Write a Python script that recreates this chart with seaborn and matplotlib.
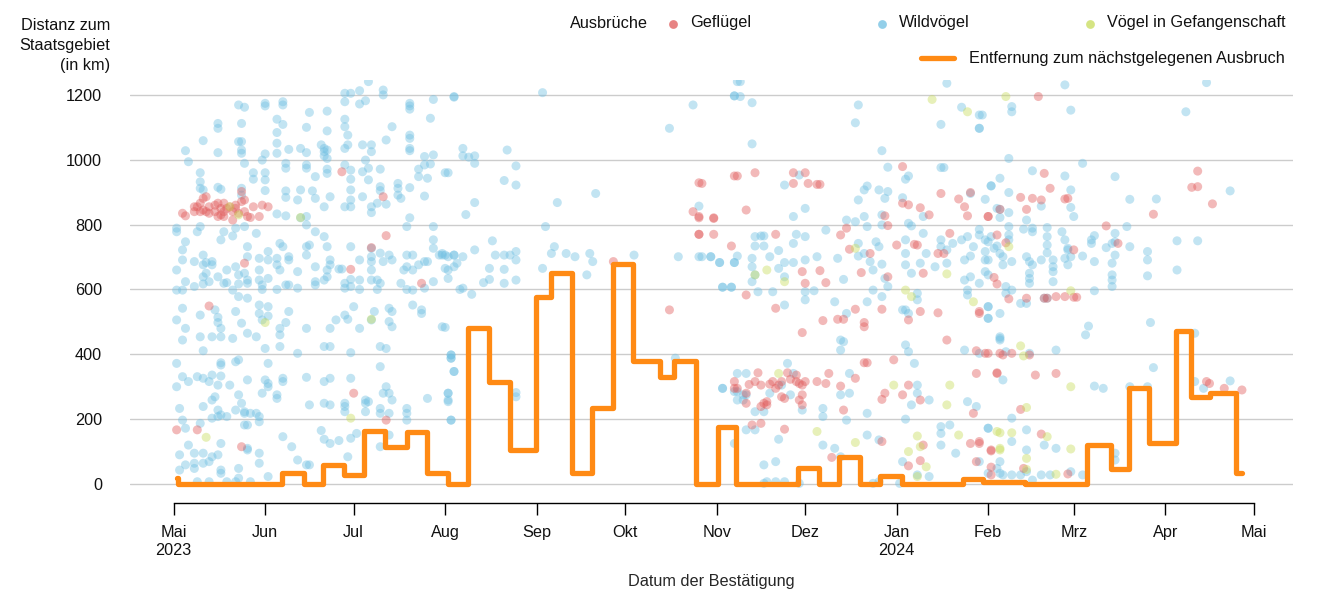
import pandas as pd
import matplotlib
matplotlib.use('Agg')
import matplotlib.pyplot as plt
import matplotlib.dates as mdates
import seaborn as sns

# Ausbrüche als (Tage seit 1. Mai 2023, Distanz zum Staatsgebiet in km)
START = pd.Timestamp('2023-05-01')
END = pd.Timestamp('2024-05-01')

wild_may_jul = [
    (22, 1169), (24, 1162), (31, 1174), (31, 1166), (37, 1179), (37, 1169), (46, 1146), (52, 1150), (58, 1205),
    (60, 1205), (63, 1213), (66, 1241), (71, 1215), (71, 1200), (80, 1174), (80, 1166), (88, 1186), (95, 1193),
    (58, 1179), (63, 1172), (65, 1182), (35, 1125), (37, 1109), (15, 1112), (15, 1097), (23, 1112), (45, 1100),
    (52, 1089), (58, 1125), (58, 1102), (59, 1076), (74, 1102), (87, 1128), (80, 1156), (80, 1035), (80, 1028),
    (10, 1059), (4, 1028), (15, 1022), (22, 1056), (23, 1056), (23, 1030), (23, 1020), (35, 1084), (35, 1051),
    (35, 1020), (39, 1032), (43, 1035), (45, 1022), (50, 1046), (51, 1035), (51, 1025), (52, 1030), (51, 1012),
    (52, 1004), (58, 1035), (59, 1046), (64, 1046), (67, 1046), (67, 1025), (72, 1061), (88, 1015), (85, 1010),
    (87, 987), (80, 1076), (80, 1066), (31, 1018), (30, 999), (24, 989),
    (5, 994), (9, 960), (9, 932), (9, 912), (15, 915), (16, 909), (27, 960), (31, 960), (31, 938), (27, 940),
    (23, 912), (23, 891), (31, 905), (38, 989), (38, 974), (38, 904), (38, 884), (45, 984), (45, 974), (48, 948),
    (52, 971), (52, 958), (58, 984), (60, 968), (60, 940), (60, 907), (60, 876), (60, 855), (64, 963), (65, 999),
    (66, 974), (66, 938), (70, 971), (70, 917), (70, 905), (76, 927), (76, 912), (76, 891), (77, 881), (80, 914),
    (83, 971), (83, 948), (85, 984), (86, 943), (92, 960), (85, 888), (64, 886), (58, 855), (53, 886), (48, 881),
    (51, 855), (43, 907), (42, 876), (47, 904), (67, 855), (67, 837), (45, 799), (45, 825), (43, 821), (80, 821),
    (69, 866), (72, 863), (79, 794), (88, 794), (35, 833), (38, 827), (9, 794), (1, 789), (1, 778), (8, 778),
    (10, 907),
    (4, 747), (3, 722), (3, 691), (1, 660), (7, 686), (10, 706), (10, 676), (11, 683), (13, 686), (13, 676),
    (11, 650), (10, 639), (10, 617), (12, 624), (15, 639), (17, 619), (18, 660), (21, 670), (22, 645), (24, 650),
    (25, 732), (25, 701), (25, 629), (22, 617), (20, 598), (29, 696), (29, 660), (29, 629), (32, 717), (32, 691),
    (32, 634), (35, 696), (35, 676), (36, 742), (37, 732), (36, 660), (39, 701), (39, 691), (39, 614), (42, 655),
    (45, 732), (45, 706), (46, 737), (48, 778), (48, 670), (51, 763), (52, 732), (53, 691), (52, 660), (52, 639),
    (51, 629), (53, 676), (56, 663), (57, 663), (58, 619), (60, 631), (60, 609), (60, 732), (63, 691), (67, 727),
    (67, 701), (67, 686), (67, 660), (67, 629), (69, 629), (70, 712), (71, 686), (70, 619), (73, 706), (74, 691),
    (77, 619), (79, 706), (81, 706), (79, 670), (78, 660), (81, 660), (83, 676), (85, 686), (86, 686), (88, 753),
    (88, 727), (88, 624), (91, 706), (92, 706), (92, 665), (95, 706), (96, 681), (97, 600), (85, 604), (81, 598),
    (79, 600), (69, 600), (63, 629), (63, 600), (58, 604), (48, 614), (48, 624), (42, 604), (38, 614), (35, 600),
    (30, 600), (30, 614), (25, 619), (18, 621), (7, 609), (4, 624), (3, 598), (1, 598), (16, 753), (20, 765),
    (17, 778), (21, 789), (24, 794), (28, 773),
    (3, 542), (1, 506), (4, 480), (3, 444), (9, 521), (9, 454), (10, 411), (14, 537), (15, 514), (15, 498),
    (16, 480), (13, 454), (16, 454), (20, 449), (22, 578), (25, 573), (21, 532), (23, 496), (25, 465), (28, 454),
    (29, 552), (29, 526), (32, 547), (30, 506), (32, 518), (31, 418), (36, 480), (36, 460), (36, 424), (38, 498),
    (39, 532), (42, 403), (45, 480), (51, 424), (53, 480), (53, 424), (55, 506), (58, 521), (59, 508), (61, 547),
    (63, 480), (67, 506), (68, 532), (60, 405), (70, 424), (72, 418), (73, 542), (74, 532), (74, 485), (73, 501),
    (81, 552), (84, 537), (84, 526), (92, 483), (94, 398), (94, 388), (1, 372), (3, 331), (16, 374), (16, 367),
    (21, 377), (22, 383), (32, 372),
    (1, 300), (5, 316), (2, 233), (3, 197), (4, 172), (8, 331), (10, 326), (12, 316), (13, 336), (16, 333),
    (14, 269), (13, 259), (15, 305), (19, 305), (15, 228), (15, 208), (16, 213), (18, 208), (10, 239), (9, 187),
    (13, 203), (21, 228), (22, 275), (23, 249), (25, 321), (24, 223), (28, 218), (29, 208), (26, 218), (29, 192),
    (24, 218), (24, 182), (25, 182), (31, 321), (32, 310), (32, 300), (30, 280), (35, 275), (35, 264), (37, 326),
    (37, 316), (45, 329), (46, 244), (51, 316), (53, 326), (53, 244), (51, 249), (58, 239), (58, 223), (58, 249),
    (60, 326), (65, 259), (65, 249), (65, 223), (66, 254), (70, 362), (71, 280), (72, 300), (73, 280), (70, 233),
    (70, 218), (74, 259), (79, 233), (79, 218), (79, 197), (86, 264), (93, 280), (93, 259), (94, 197), (95, 347),
    (2, 90), (7, 95), (7, 64), (7, 48), (2, 43), (4, 59), (5, 120), (10, 95), (10, 64), (12, 69), (13, 84),
    (15, 90), (16, 43), (16, 33), (16, 125), (25, 105), (25, 110), (22, 48), (29, 64), (29, 95), (37, 146),
    (40, 115), (42, 74), (45, 59), (46, 59), (50, 165), (51, 138), (53, 125), (56, 134), (59, 84), (60, 141),
    (62, 156), (70, 115), (73, 218), (73, 151), (8, 7), (12, 7), (18, 7), (21, 7), (26, 7), (32, 23), (22, 18),
]

wild_aug_oct = [
    (95, 1195), (98, 1035), (98, 1012), (100, 1008), (102, 1012), (102, 989), (93, 960), (113, 1030), (116, 981),
    (112, 936), (116, 922), (102, 868), (99, 831), (125, 1207), (130, 868), (143, 896), (126, 794), (90, 706),
    (91, 711), (93, 701), (95, 706), (98, 701), (102, 722), (108, 750), (109, 706), (112, 706), (114, 706),
    (116, 717), (116, 691), (93, 660), (93, 634), (95, 670), (98, 604), (101, 585), (105, 621), (107, 631),
    (107, 665), (112, 662), (112, 619), (116, 629), (125, 665), (128, 711), (129, 732), (133, 711), (136, 701),
    (141, 711), (142, 686), (140, 645), (156, 706), (171, 701), (179, 701), (182, 701), (185, 683), (190, 683),
    (186, 607), (189, 607), (176, 1169), (168, 1097), (190, 1197), (191, 1241), (91, 485), (94, 398), (94, 388),
    (95, 347), (93, 280), (93, 254), (94, 197), (116, 282), (116, 269), (186, 295), (190, 285), (191, 259),
    (170, 388),
]

wild_nov_jan = [
    (192, 1241), (190, 1197), (192, 1195), (196, 1176), (196, 1049), (232, 1169), (231, 1114), (240, 1028),
    (262, 1236), (260, 1109), (267, 1162), (274, 1138), (273, 1097),
    (178, 857), (178, 701), (182, 701), (185, 683), (186, 607), (189, 607), (191, 703), (190, 683), (196, 696),
    (196, 670), (197, 763), (199, 765), (200, 765), (197, 734), (200, 734), (196, 624), (197, 645), (198, 593),
    (203, 593), (202, 701), (205, 720), (207, 683), (207, 639), (205, 665), (207, 552), (210, 742), (210, 683),
    (210, 825), (207, 922), (212, 953), (214, 850), (211, 770), (214, 763), (214, 691), (214, 593), (214, 568),
    (218, 701), (217, 596), (221, 783), (224, 562), (225, 696), (227, 631), (228, 526), (226, 444), (226, 413),
    (227, 439), (228, 814), (231, 809), (232, 876), (234, 907), (235, 919), (235, 794), (234, 825), (239, 907),
    (241, 881), (242, 902), (242, 977), (240, 830), (240, 799), (232, 742), (232, 703), (234, 711), (236, 686),
    (237, 660), (238, 747), (239, 732), (240, 678), (241, 634), (237, 598), (235, 562), (240, 578), (242, 609),
    (248, 753), (248, 711), (248, 676), (250, 650), (249, 526), (248, 537), (252, 588), (252, 568), (248, 429),
    (249, 408), (251, 372), (247, 537), (249, 804), (247, 883), (248, 940), (249, 950), (250, 796), (254, 825),
    (254, 773), (255, 711), (253, 681), (258, 670), (260, 976), (261, 976), (260, 753), (260, 732), (262, 722),
    (262, 681), (264, 742), (267, 753), (269, 763), (268, 691), (270, 703), (271, 732), (270, 639), (268, 629),
    (269, 598), (269, 583), (273, 619), (276, 645), (276, 691), (276, 747), (277, 763), (279, 734), (277, 919),
    (275, 878), (276, 547), (276, 511), (280, 444), (268, 413), (279, 850), (273, 785), (270, 896),
    (186, 295), (191, 341), (194, 341), (191, 285), (193, 259), (193, 275), (194, 275), (197, 223), (200, 223),
    (202, 280), (206, 305), (208, 372), (209, 275), (210, 341), (213, 228), (220, 233), (220, 208), (220, 120),
    (224, 110), (228, 197), (229, 280), (229, 341), (226, 275), (226, 84), (197, 167), (200, 59), (204, 69),
    (207, 7), (201, 7), (204, 7), (194, 167), (190, 125), (212, 2), (200, 2), (205, 138), (235, 218), (235, 151),
    (239, 136), (247, 69), (248, 200), (250, 244), (252, 280), (252, 305), (256, 259), (260, 156), (260, 177),
    (263, 182), (265, 95), (269, 254), (272, 239), (276, 172), (276, 33), (279, 48), (260, 120), (256, 23),
    (252, 28), (246, 2), (239, 7), (237, 2),
]

wild_feb_apr = [
    (302, 1231), (284, 1164), (284, 1148), (273, 1138), (273, 1097), (304, 1153), (343, 1148), (350, 1238),
    (283, 1004), (308, 989), (291, 966), (302, 950), (319, 948), (280, 943), (277, 920), (283, 899), (304, 907),
    (324, 878), (333, 879), (358, 904), (304, 853), (305, 825), (280, 847), (280, 822), (283, 837), (283, 794),
    (283, 768), (283, 753), (291, 789), (291, 778), (288, 786), (296, 791), (296, 763), (296, 737), (296, 713),
    (301, 778), (302, 753), (303, 727), (304, 701), (303, 676), (289, 814), (294, 857), (311, 753), (311, 742),
    (312, 766), (308, 703), (312, 686), (316, 729), (318, 742), (319, 773), (319, 747), (319, 706), (318, 681),
    (318, 645), (318, 629), (318, 609), (323, 794), (324, 732), (330, 717), (330, 691), (330, 642), (340, 750),
    (347, 750), (340, 660), (312, 596), (273, 768), (275, 753), (275, 717), (275, 691), (275, 655), (278, 727),
    (280, 711), (281, 701), (281, 676), (282, 609), (284, 686), (284, 598), (282, 588), (289, 701), (290, 686),
    (291, 676), (290, 650), (290, 634), (290, 619), (294, 691), (298, 691), (298, 670), (298, 655), (298, 624),
    (302, 696), (303, 722), (287, 557), (289, 557), (295, 573), (296, 573), (276, 547), (276, 511), (280, 526),
    (273, 403), (280, 454), (280, 449), (290, 403), (282, 408), (299, 413), (310, 487), (309, 460), (331, 498),
    (332, 359), (281, 321), (312, 302), (315, 295), (319, 95), (319, 74), (276, 172), (284, 203), (284, 131),
    (289, 167), (295, 120), (289, 105), (299, 110), (280, 69), (280, 33), (281, 28), (287, 28), (289, 38),
    (294, 28), (297, 28), (304, 38), (308, 28), (291, 12), (284, 28), (273, 69), (346, 465), (346, 316),
    (358, 318), (349, 295), (330, 300), (324, 300),
]

poultry_summer = [
    (3, 835), (4, 827), (7, 840), (8, 855), (9, 866), (10, 881), (11, 886), (9, 840), (10, 845), (11, 840),
    (12, 835), (14, 840), (14, 860), (15, 866), (16, 850), (16, 830), (17, 840), (17, 825), (18, 850), (19, 855),
    (20, 840), (20, 814), (21, 860), (21, 850), (22, 835), (23, 902), (23, 871), (24, 876), (24, 840), (25, 825),
    (26, 822), (27, 855), (29, 825), (30, 860), (32, 855), (17, 866), (15, 825), (12, 855), (7, 855), (24, 681),
    (12, 549), (57, 963), (71, 886), (72, 766), (67, 729), (60, 662), (84, 619), (1, 167), (8, 167), (23, 115),
    (61, 280), (72, 197), (149, 686), (168, 537), (179, 927), (176, 840), (178, 825), (183, 819), (178, 770),
    (183, 770), (189, 734), (190, 950), (191, 950), (190, 316), (190, 295),
]

poultry_winter = [
    (197, 960), (194, 845), (210, 960), (214, 960), (210, 927), (215, 927), (218, 924), (219, 924), (204, 770),
    (194, 583), (204, 542), (213, 467), (220, 504), (225, 508), (227, 508), (247, 979), (247, 866), (249, 861),
    (253, 852), (256, 830), (260, 896), (266, 879), (268, 855), (270, 899), (269, 827), (276, 825), (263, 773),
    (259, 711), (252, 737), (261, 711), (241, 827), (242, 797), (228, 789), (226, 768), (229, 724), (233, 652),
    (236, 711), (245, 737), (251, 739), (254, 650), (242, 639), (231, 539), (240, 539), (234, 498), (234, 485),
    (221, 621), (219, 658), (213, 655), (214, 619), (249, 506), (253, 532), (259, 528), (262, 444), (244, 383),
    (234, 374), (235, 374), (241, 280), (247, 275), (249, 305), (253, 259), (249, 56), (253, 72), (254, 120),
    (272, 411), (275, 403), (272, 69), (270, 125), (273, 131), (277, 105), (271, 218), (272, 341), (279, 341),
    (273, 526), (178, 929), (183, 821), (178, 821), (178, 770),
    (191, 295), (194, 280), (195, 307), (197, 316), (198, 343), (199, 305), (200, 249), (202, 308), (203, 316),
    (204, 295), (205, 305), (206, 269), (206, 316), (207, 264), (208, 343), (209, 323), (211, 336), (211, 316),
    (212, 310), (213, 305), (214, 316), (213, 275), (212, 259), (213, 244), (218, 316), (221, 310), (222, 341),
    (226, 302), (231, 326), (194, 249), (199, 239), (201, 244), (201, 254), (196, 182), (199, 187), (207, 169),
    (223, 82), (227, 228), (240, 261), (240, 131),
    (293, 1195), (295, 958), (297, 912), (287, 884), (291, 881), (294, 876), (302, 879), (303, 881), (289, 847),
    (280, 847), (276, 825), (279, 768), (282, 744), (305, 722), (320, 742), (316, 796), (278, 637), (279, 617),
    (283, 571), (289, 573), (295, 573), (296, 573), (299, 578), (302, 578), (305, 576), (306, 576), (273, 532),
    (276, 403), (280, 403), (281, 398), (284, 403), (290, 398), (279, 343), (292, 336), (299, 341), (287, 230),
    (294, 154), (277, 102), (277, 52), (277, 28), (273, 125), (288, 48), (303, 31), (332, 832), (345, 915),
    (347, 917), (347, 965), (352, 864), (351, 310), (356, 295), (362, 290), (350, 316),
]

captive = [
    (11, 144), (43, 822), (31, 498), (60, 203), (67, 508), (19, 855), (22, 830), (197, 645), (201, 660),
    (207, 624), (205, 341), (218, 162), (231, 128), (244, 305), (248, 598), (250, 578), (252, 148), (253, 115),
    (255, 53), (249, 100), (252, 23), (263, 305), (262, 244), (266, 151), (271, 562), (279, 162), (280, 105),
    (257, 1186), (269, 1148), (282, 1195), (283, 732), (304, 596), (287, 426), (288, 395), (304, 300), (289, 236),
    (280, 158), (284, 158), (280, 110), (296, 146), (289, 79), (304, 108), (299, 30), (289, 45), (231, 727),
    (262, 648),
]

# Entfernung zum nächstgelegenen Ausbruch (Stufenlinie)
step_days = [1, 1.5, 36.6, 44, 50.7, 57.8, 64.5, 71.6, 79, 85.8, 93.1, 99.9, 107, 113.8, 122.8, 127.8, 134.9,
             141.7, 148.8, 155.8, 164.8, 169.7, 177, 184.6, 190.7, 211.7, 218.8, 225.6, 232.6, 239.4, 246.7,
             267.6, 274.4, 288.5, 309.4, 317.6, 323.8, 330.6, 339.7, 344.7, 351.2, 360, 362]
step_km = [18, 0, 34, 0, 59, 28, 164, 114, 161, 34, 0, 481, 316, 105, 578, 652, 35, 233, 678, 379, 331, 379,
           0, 177, 0, 48, 0, 84, 0, 25, 0, 15, 5, 0, 120, 45, 295, 125, 472, 269, 280, 33, 33]

month_labels = ['Mai\n2023', 'Jun', 'Jul', 'Aug', 'Sep', 'Okt', 'Nov', 'Dez', 'Jan\n2024', 'Feb', 'Mrz', 'Apr', 'Mai']
y_ticks = [0, 200, 400, 600, 800, 1000, 1200]

colors = {'Geflügel': '#E05A5A', 'Wildvögel': '#6FBFE2', 'Vögel in Gefangenschaft': '#C8DC5A'}
orange = '#FF8A14'


def to_frame(points, kind):
    d = pd.DataFrame(points, columns=['tag', 'km'])
    d['datum'] = START + pd.to_timedelta(d['tag'], unit='D')
    d['art'] = kind
    return d


df = pd.concat([
    to_frame(wild_may_jul + wild_aug_oct + wild_nov_jan + wild_feb_apr, 'Wildvögel'),
    to_frame(poultry_summer + poultry_winter, 'Geflügel'),
    to_frame(captive, 'Vögel in Gefangenschaft'),
], ignore_index=True)

step_dates = START + pd.to_timedelta(step_days, unit='D')

sns.set_theme(style='white')
plt.rcParams['font.family'] = ['Liberation Sans', 'DejaVu Sans']
plt.rcParams['font.size'] = 11.7

fig = plt.figure(figsize=(13.33, 6), dpi=100)
ax = fig.add_axes([130 / 1333, 1 - 503 / 600, 1163 / 1333, 423 / 600])

sns.scatterplot(data=df, x='datum', y='km', hue='art', palette=colors, s=42, alpha=0.42,
                linewidth=0, legend=False, ax=ax, zorder=2)
sns.lineplot(x=step_dates, y=step_km, drawstyle='steps-post', color=orange, linewidth=3.8,
             estimator=None, sort=False, ax=ax, zorder=3,
             solid_joinstyle='round', solid_capstyle='round')

ax.set_xlim(START - pd.Timedelta(days=14.8), START + pd.Timedelta(days=379.3))
ax.set_ylim(-58.6, 1246)

ax.set_yticks(y_ticks)
ax.set_yticklabels([str(v) for v in y_ticks], fontsize=11.7, color='#111111')
ax.yaxis.grid(True, color='#cccccc', linewidth=1)
ax.xaxis.grid(False)
ax.set_axisbelow(True)
ax.tick_params(axis='y', length=0, pad=20)

ax.set_xticks(pd.date_range(START, END, freq='MS'))
ax.set_xticklabels(month_labels, fontsize=11.7, color='#111111', linespacing=1.3)
ax.tick_params(axis='x', direction='out', length=8.6, width=1, color='black', pad=7, bottom=True)

for side in ['left', 'top', 'right']:
    ax.spines[side].set_visible(False)
ax.spines['bottom'].set_color('black')
ax.spines['bottom'].set_linewidth(1)
ax.spines['bottom'].set_bounds(mdates.date2num(START), mdates.date2num(END))

ax.set_xlabel('Datum der Bestätigung', fontsize=11.7, labelpad=11)
ax.set_ylabel('')

fig.text(110 / 1333, 1 - 45.5 / 600, 'Distanz zum\nStaatsgebiet\n(in km)', ha='right', va='center',
         fontsize=11.7, linespacing=1.45, color='#111111')

# Legende oben rechts
lax = fig.add_axes([0, 0, 1, 1], facecolor='none')
lax.set_xlim(0, 1333)
lax.set_ylim(600, 0)
lax.axis('off')
lax.text(570, 23, 'Ausbrüche', ha='left', va='center', fontsize=11.7, color='#111111')
for label, xdot in [('Geflügel', 673), ('Wildvögel', 882), ('Vögel in Gefangenschaft', 1090)]:
    lax.scatter([xdot], [24], s=40, color=colors[label], alpha=0.75, linewidth=0)
    lax.text(xdot + 17, 23, label, ha='left', va='center', fontsize=11.7, color='#111111')
lax.plot([921, 954], [58, 58], color=orange, linewidth=3.8, solid_capstyle='round')
lax.text(969, 58, 'Entfernung zum nächstgelegenen Ausbruch', ha='left', va='center', fontsize=11.7,
         color='#111111')

fig.savefig('out.png', dpi=100)
